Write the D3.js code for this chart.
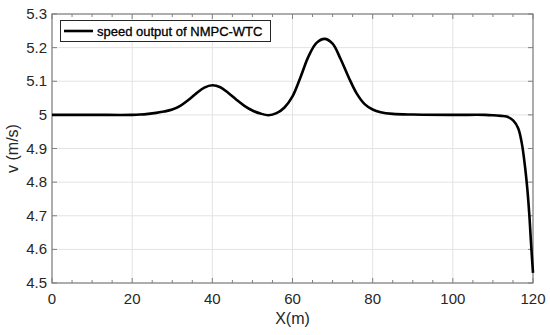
<!DOCTYPE html>
<html lang="en">
<head>
  <meta charset="UTF-8" />
  <title>speed output of NMPC-WTC</title>
  <script src="https://d3js.org/d3.v7.min.js"></script>
  <style>
    body { margin: 0; background: #fff; }
    svg { display: block; font-family: Arial, "Liberation Sans", sans-serif; }
    .grid line { stroke: #e3e3e3; stroke-width: 1px; }
    .tick-label { font-size: 15px; fill: #262626; }
  </style>
</head>
<body>
  <svg width="550" height="335"></svg>
  <script>
    // distance along path (m)
    const xs = [0, 10, 20, 22, 24, 26, 28, 30, 32, 34, 36, 38, 40, 42, 44, 46, 48, 50, 52, 54, 56, 58,
                60, 62, 64, 66, 68, 70, 72, 74, 76, 78, 80, 82, 85, 90, 100, 108, 110, 112,
                113.4, 115.1, 116.3, 117.2, 118, 118.6, 119.1, 119.5, 120];
    // speed (m/s)
    const speed = [5, 5, 5, 5.001, 5.003, 5.006, 5.010, 5.016, 5.027, 5.044, 5.064, 5.081, 5.088, 5.082, 5.065, 5.045, 5.027, 5.013, 5.004, 4.999, 5.005, 5.022,
                   5.055, 5.112, 5.174, 5.214, 5.226, 5.212, 5.166, 5.112, 5.064, 5.032, 5.016, 5.008, 5.003, 5.001, 5.0, 5.0, 4.999, 4.997,
                   4.995, 4.983, 4.96, 4.916, 4.847, 4.778, 4.70, 4.62, 4.53];
    const xTicks = [0, 20, 40, 60, 80, 100, 120];
    const xMinor = d3.range(0, 121, 5);
    const yTicks = [4.5, 4.6, 4.7, 4.8, 4.9, 5, 5.1, 5.2, 5.3];
    const legendLabel = "speed output of NMPC-WTC";

    const W = 550, H = 335;
    const m = { left: 52, right: 17, top: 14, bottom: 52 };
    const svg = d3.select("svg");

    const x = d3.scaleLinear().domain([0, 120]).range([m.left, W - m.right]);
    const y = d3.scaleLinear().domain([4.5, 5.3]).range([H - m.bottom, m.top]);

    // grid
    const grid = svg.append("g").attr("class", "grid");
    grid.selectAll(".gx").data(xTicks).join("line")
      .attr("x1", d => x(d)).attr("x2", d => x(d))
      .attr("y1", m.top).attr("y2", H - m.bottom);
    grid.selectAll(".gy").data(yTicks).join("line")
      .attr("y1", d => y(d)).attr("y2", d => y(d))
      .attr("x1", m.left).attr("x2", W - m.right);

    // ticks (inward, on all four sides)
    const axisColor = "#808080";
    const ticks = svg.append("g").attr("stroke", axisColor).attr("stroke-width", 1);
    xMinor.forEach(v => {
      const len = xTicks.includes(v) ? 5 : 3;
      ticks.append("line").attr("x1", x(v)).attr("x2", x(v)).attr("y1", y(4.5)).attr("y2", y(4.5) - len);
      ticks.append("line").attr("x1", x(v)).attr("x2", x(v)).attr("y1", y(5.3)).attr("y2", y(5.3) + len);
    });
    yTicks.forEach(v => {
      ticks.append("line").attr("y1", y(v)).attr("y2", y(v)).attr("x1", x(0)).attr("x2", x(0) + 5);
      ticks.append("line").attr("y1", y(v)).attr("y2", y(v)).attr("x1", x(120)).attr("x2", x(120) - 5);
    });

    // box
    svg.append("rect")
      .attr("x", m.left).attr("y", m.top)
      .attr("width", W - m.left - m.right).attr("height", H - m.top - m.bottom)
      .attr("fill", "none").attr("stroke", axisColor).attr("stroke-width", 1.2);

    // tick labels
    svg.selectAll(".xl").data(xTicks).join("text")
      .attr("class", "tick-label")
      .attr("x", d => x(d)).attr("y", H - m.bottom + 21)
      .attr("text-anchor", "middle")
      .text(d => d);
    svg.selectAll(".yl").data(yTicks).join("text")
      .attr("class", "tick-label")
      .attr("x", m.left - 5).attr("y", d => y(d) + 5)
      .attr("text-anchor", "end")
      .text(d => d);

    // axis titles
    svg.append("text")
      .attr("x", (x(0) + x(120)) / 2).attr("y", 324)
      .attr("text-anchor", "middle").attr("font-size", 16).attr("fill", "#262626")
      .text("X(m)");
    svg.append("text")
      .attr("transform", `translate(18,${(y(4.5) + y(5.3)) / 2}) rotate(-90)`)
      .attr("text-anchor", "middle").attr("font-size", 16).attr("fill", "#262626")
      .text("v (m/s)");

    // the speed curve
    const line = d3.line()
      .x((d, i) => x(xs[i]))
      .y(d => y(d))
      .curve(d3.curveCatmullRom.alpha(0.5));
    svg.append("path")
      .datum(speed)
      .attr("fill", "none")
      .attr("stroke", "#000")
      .attr("stroke-width", 2.6)
      .attr("stroke-linejoin", "round")
      .attr("d", line);

    // legend
    const lg = svg.append("g");
    lg.append("rect")
      .attr("x", 60.5).attr("y", 20.5).attr("width", 210).attr("height", 21)
      .attr("fill", "#fff").attr("stroke", "#262626").attr("stroke-width", 1);
    lg.append("line")
      .attr("x1", 64).attr("x2", 93).attr("y1", 31).attr("y2", 31)
      .attr("stroke", "#000").attr("stroke-width", 2.6);
    lg.append("text")
      .attr("x", 97).attr("y", 35.5)
      .attr("font-size", 13).attr("fill", "#000")
      .attr("stroke", "#000").attr("stroke-width", 0.3)
      .text(legendLabel);
  </script>
</body>
</html>
